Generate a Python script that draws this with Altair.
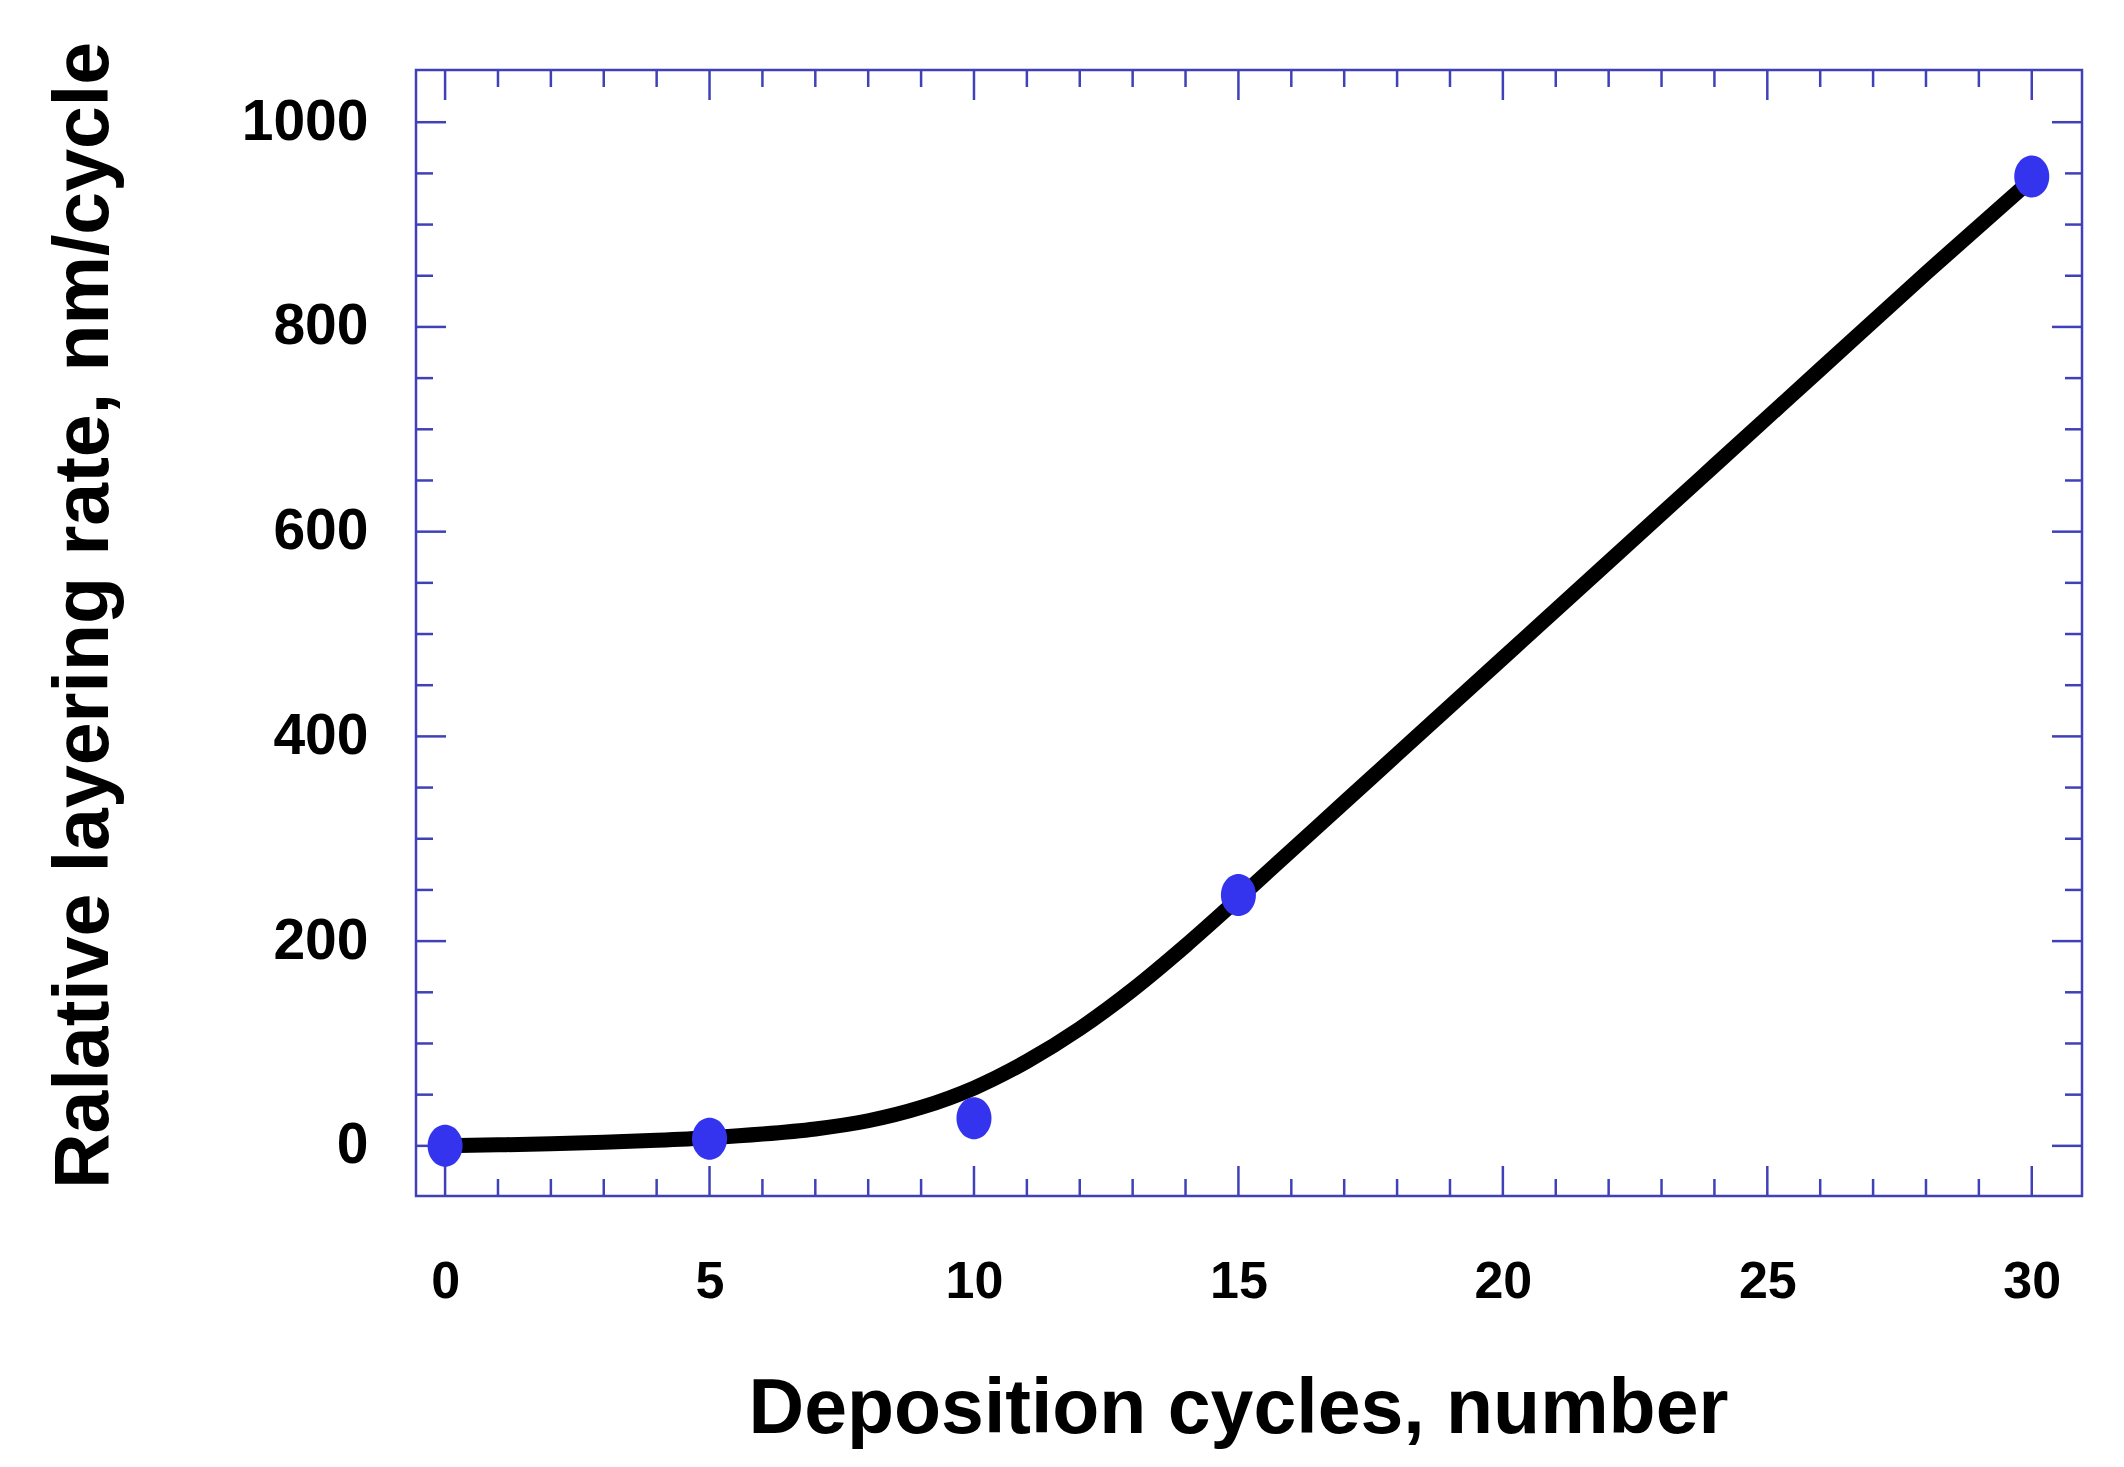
import altair as alt
import pandas as pd

# measured points
pt_x = [0, 5, 10, 15, 30]
pt_y = [0, 7, 27, 245, 947]

# fitted curve
curve_x = [0, 1, 2, 3, 4, 5, 6, 7, 8, 9, 10, 11, 12, 13, 14, 15, 16, 17, 18, 20, 22, 24, 26, 28, 30]
curve_y = [0, 1, 2, 3.5, 5.5, 8, 11.5, 16.5, 24.5, 37.5, 56.5, 82.5, 114.5, 152.5, 195.5, 241.5,
           288.5, 335.5, 382.5, 476.5, 570.5, 664.5, 758.5, 852.5, 944]

# tick positions
x_major = [0, 5, 10, 15, 20, 25, 30]
x_minor = [v for v in range(0, 31) if v % 5 != 0]
y_major = [0, 200, 400, 600, 800, 1000]
y_minor = [v for v in range(50, 1001, 50) if v % 200 != 0]

W, H = 1666, 1126
FRAME = "#4040B8"
PT = "#3434EE"
LABEL_FONT = "Liberation Sans"
TITLE_FONT = "Liberation Sans Narrow, Arial Narrow, Liberation Sans"

xs = alt.Scale(domain=[-0.55, 30.95], nice=False, zero=False)
ys = alt.Scale(domain=[-49, 1051], nice=False, zero=False)

curve_df = pd.DataFrame({"x": curve_x, "y": curve_y})
pt_df = pd.DataFrame({"x": pt_x, "y": pt_y})

X_TITLE = "Deposition cycles,  number"
Y_TITLE = "Ralative layering rate, nm/cycle"

x_axis = alt.Axis(
    values=x_major, ticks=False, tickSize=0, domain=False, grid=False, format="d",
    labelFont=LABEL_FONT, labelFontSize=52, labelFontWeight="bold", labelColor="black",
    labelPadding=101, labelBaseline="alphabetic",
    titleFont=TITLE_FONT, titleFontSize=77,
    titleFontWeight="bold", titleColor="black", titleX=822, titleY=236,
    titleAlign="center", titleBaseline="alphabetic",
)
y_axis = alt.Axis(
    values=y_major, ticks=False, tickSize=0, domain=False, grid=False, format="d",
    labelFont=LABEL_FONT, labelFontSize=57, labelFontWeight="bold", labelColor="black",
    labelPadding=48, labelBaseline="middle",
    titleFont=TITLE_FONT, titleFontSize=77,
    titleFontWeight="bold", titleColor="black", titleX=-309, titleY=545,
    titleAlign="center", titleBaseline="alphabetic", titleAngle=270,
)

curve = alt.Chart(curve_df).mark_line(
    color="black", strokeWidth=15, interpolate="monotone", strokeCap="round"
).encode(
    x=alt.X("x:Q", scale=xs, axis=x_axis, title=X_TITLE),
    y=alt.Y("y:Q", scale=ys, axis=y_axis, title=Y_TITLE),
)

ellipse = "M-0.833,0A0.833,1 0 1,0 0.833,0A0.833,1 0 1,0 -0.833,0Z"
points = alt.Chart(pt_df).mark_point(
    shape=ellipse, size=1764, filled=True, fill=PT, opacity=1, strokeWidth=0
).encode(
    x=alt.X("x:Q", scale=xs, axis=x_axis, title=X_TITLE),
    y=alt.Y("y:Q", scale=ys, axis=y_axis, title=Y_TITLE),
)


def xticks(vals, y0, y1):
    return alt.Chart(pd.DataFrame({"v": vals})).mark_rule(
        color=FRAME, strokeWidth=2.5
    ).encode(
        x=alt.X("v:Q", scale=xs, axis=x_axis, title=X_TITLE),
        y=alt.value(y0), y2=alt.value(y1),
    )


def yticks(vals, x0, x1):
    return alt.Chart(pd.DataFrame({"v": vals})).mark_rule(
        color=FRAME, strokeWidth=2.5
    ).encode(
        y=alt.Y("v:Q", scale=ys, axis=y_axis, title=Y_TITLE),
        x=alt.value(x0), x2=alt.value(x1),
    )


MAJ, MIN = 30, 17
ticks = [
    xticks(x_major, H, H - MAJ), xticks(x_minor, H, H - MIN),
    xticks(x_major, 0, MAJ), xticks(x_minor, 0, MIN),
    yticks(y_major, 0, MAJ), yticks(y_minor, 0, MIN),
    yticks(y_major, W, W - MAJ), yticks(y_minor, W, W - MIN),
]

chart = alt.layer(curve, *ticks, points).properties(
    width=W, height=H,
    autosize=alt.AutoSizeParams(type="none"),
    padding={"left": 408, "top": 62, "right": 26, "bottom": 255},
    background="white",
).configure_view(stroke=FRAME, strokeWidth=2.5)

chart.save("out.html", embed_options={"renderer": "svg", "actions": False})
